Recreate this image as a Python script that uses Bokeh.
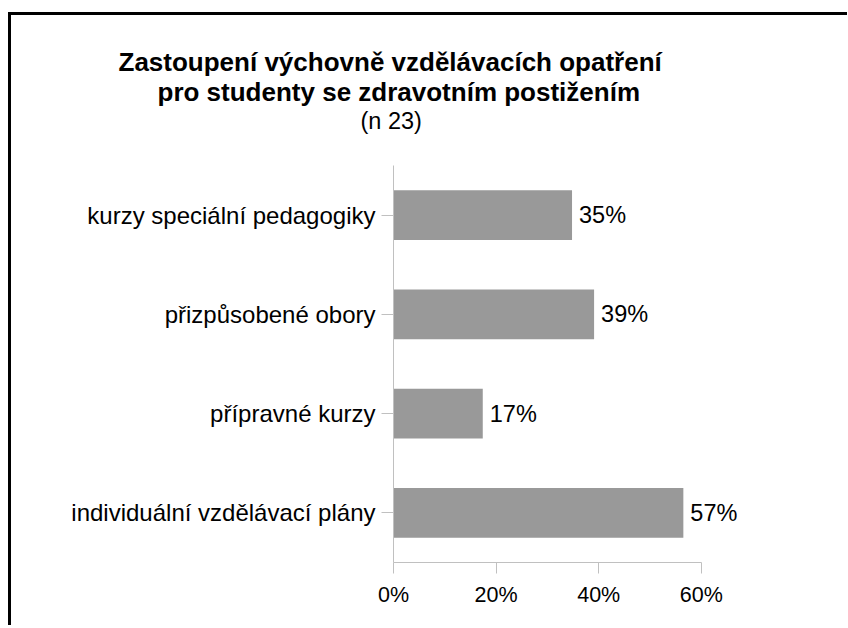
from bokeh.plotting import figure
from bokeh.layouts import column
from bokeh.models import ColumnDataSource, FixedTicker, PrintfTickFormatter, Range1d
from bokeh.core.properties import value
from bokeh.embed import file_html
from bokeh.resources import INLINE

categories = ["individuální vzdělávací plány", "přípravné kurzy", "přizpůsobené obory", "kurzy speciální pedagogiky"]
values = [56.5, 17.4, 39.1, 34.8]
value_labels = ["57%", "17%", "39%", "35%"]
x_ticks = [0, 20, 40, 60]
title_lines = ["Zastoupení výchovně vzdělávacích opatření", "pro studenty se zdravotním postižením"]
subtitle = "(n 23)"

FONT = "Liberation Sans"

# ---- title block (its own figure, pixel coordinates) ----
t = figure(width=836, height=140, x_range=Range1d(0, 836), y_range=Range1d(140, 0),
           output_backend="svg", toolbar_location=None,
           x_axis_location=None, y_axis_location=None, min_border=0)
t.frame_align = False
t.outline_line_color = None
t.grid.visible = False
t.text(x=[107], y=[46], text=[title_lines[0]], text_baseline="alphabetic",
       text_font=value(FONT), text_font_size="26px", text_font_style="bold", text_color="#000000")
t.text(x=[146], y=[76], text=[title_lines[1]], text_baseline="alphabetic",
       text_font=value(FONT), text_font_size="26px", text_font_style="bold", text_color="#000000")
t.text(x=[349], y=[105], text=[subtitle], text_baseline="alphabetic",
       text_font=value(FONT), text_font_size="23.5px", text_color="#000000")

# ---- chart ----
src = ColumnDataSource(dict(cat=categories, val=values, lab=value_labels))

p = figure(width=836, height=470, y_range=categories, x_range=(0, 67.25),
           output_backend="svg", toolbar_location=None,
           min_border_left=382, min_border_right=109, min_border_top=10, min_border_bottom=63)
p.frame_align = False
p.title.visible = False
p.outline_line_color = None
p.grid.visible = False
p.y_range.range_padding = 0

p.hbar(y="cat", right="val", left=0, height=0.5, source=src, fill_color="#999999", line_color=None)
p.text(x="val", y="cat", text="lab", source=src, x_offset=7, text_baseline="middle",
       text_font=value(FONT), text_font_size="23.5px", text_color="#000000")

for ax in (p.xaxis[0], p.yaxis[0]):
    ax.axis_line_color = "#c0c0c0"
    ax.major_tick_line_color = "#c0c0c0"
    ax.minor_tick_line_color = None
    ax.major_tick_in = 0
    ax.major_label_text_font = FONT
    ax.major_label_text_color = "#000000"

p.xaxis.ticker = FixedTicker(ticks=x_ticks)
p.xaxis.formatter = PrintfTickFormatter(format="%d%%")
p.xaxis.bounds = (0, 60)
p.xaxis.major_tick_out = 11
p.xaxis.major_label_standoff = 9
p.xaxis.major_label_text_font_size = "21.5px"

p.yaxis.major_tick_out = 12
p.yaxis.major_label_standoff = 6
p.yaxis.major_label_text_font_size = "24px"

layout = column(t, p, spacing=0)
layout.styles = {"border-left": "3px solid #000", "border-top": "3px solid #000",
                 "margin-top": "12px", "margin-left": "8px"}

open("out.html", "w").write(file_html(layout, INLINE))
